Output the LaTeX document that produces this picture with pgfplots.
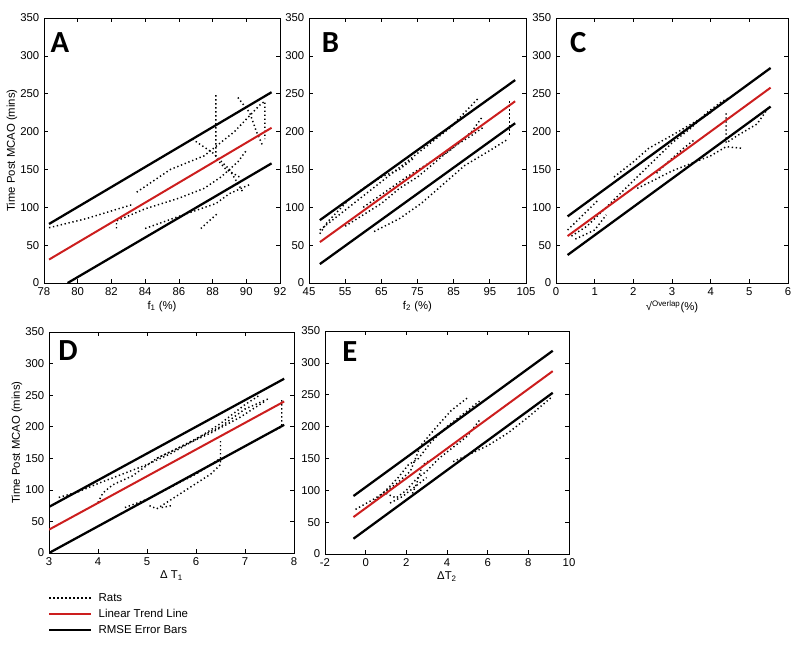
\documentclass[border=0pt]{standalone}
\usepackage{fontspec}
\setmainfont{Liberation Sans}
\newfontfamily\lettfont{Carlito}
\usepackage{pgfplots}
\pgfplotsset{compat=1.18}
\definecolor{trendred}{RGB}{204,30,30}

\pgfplotsset{
  panel/.style={scale only axis, anchor=north west,
    ymin=0, ymax=350, ytick={0,50,...,350},
    tick label style={font=\fontsize{8.5}{9}\selectfont},
    label style={font=\fontsize{8.5}{9}\selectfont},
    xlabel style={yshift=3pt}, ylabel style={yshift=-4.5pt},
    /pgf/number format/assume math mode=true,
    axis line style={line width=0.6pt},
    tick style={black, line width=0.5pt}, major tick length=3pt},
  rat/.style={black, line width=1.1pt, dash pattern=on 1pt off 2pt},
  trend/.style={trendred, line width=1.5pt},
  rmse/.style={black, line width=1.7pt},
}
\tikzset{letter/.style={anchor=north west, inner sep=0pt,
    font={\lettfont\fontsize{23}{23}\selectfont\bfseries}}}

\begin{document}
\begin{tikzpicture}
\path[use as bounding box] (0pt,0pt) rectangle (600pt,-483pt);

% ---- A ----
\begin{axis}[panel, at={(33pt,-13.5pt)}, width=177pt, height=198.75pt,
  xmin=78, xmax=92, xtick={78,80,...,92},
  xlabel={f\textsubscript{1} (\%)}, ylabel={Time Post MCAO (mins)}]
\addplot[rat] coordinates {(78.3,73) (80.5,85) (83.3,104)};
\addplot[rat] coordinates {(83.5,120) (85.5,150) (87.5,168) (89.3,200) (90.8,235) (91.1,240) (91.1,190)};
\addplot[rat] coordinates {(82.3,72) (82.3,82) (84,98) (86,112) (87.5,125) (88.5,140) (89.5,160) (90,175)};
\addplot[rat] coordinates {(84,72) (86,88) (88.2,105) (89,118) (90.2,130)};
\addplot[rat] coordinates {(87.3,72) (88.3,92)};
\addplot[rat] coordinates {(86.8,190) (88,172) (89,150) (89.8,120)};
\addplot[rat] coordinates {(88.2,248) (88.2,165) (88.8,150) (89.6,140)};
\addplot[rat] coordinates {(89.5,245) (90.2,225) (90.6,200) (91,180)};
\addplot[trend] coordinates {(78.3,31) (91.5,205)};
\addplot[rmse] coordinates {(78.3,78) (91.5,252)};
\addplot[rmse] coordinates {(79.4,0) (91.5,158)};
\node[letter] at (rel axis cs:0.027,0.947) {A};
\end{axis}

% ---- B ----
\begin{axis}[panel, at={(231.75pt,-13.5pt)}, width=162.75pt, height=198.75pt,
  xmin=45, xmax=105, xtick={45,55,...,105},
  xlabel={f\textsubscript{2} (\%)}]
\addplot[rat] coordinates {(48,70) (52,85) (56,100) (60,115) (64,130) (68,145) (72,160) (76,175) (80,190) (84,205) (88,225) (92,245)};
\addplot[rat] coordinates {(48,65) (50,80) (52,90) (56,110) (60,125) (65,140) (70,150) (74,165)};
\addplot[rat] coordinates {(55,75) (60,90) (65,105) (70,125) (75,140) (80,160) (85,180) (90,195) (93,205)};
\addplot[rat] coordinates {(63,68) (70,85) (76,105) (82,130) (88,155) (95,175) (100,190)};
\addplot[rat] coordinates {(100.5,240) (100.5,195)};
\addplot[rat] coordinates {(60,100) (66,120) (72,140) (78,158) (84,175) (90,200) (93,220)};
\addplot[trend] coordinates {(48,54) (102,240)};
\addplot[rmse] coordinates {(48,83) (102,268)};
\addplot[rmse] coordinates {(48,25) (102,211)};
\node[letter] at (rel axis cs:0.058,0.947) {B};
\end{axis}

% ---- C ----
\begin{axis}[panel, at={(417pt,-13.5pt)}, width=174pt, height=198.75pt,
  xmin=0, xmax=6, xtick={0,1,...,6},
  xlabel={√\textsuperscript{Overlap}(\%)}]
\addplot[rat] coordinates {(0.4,62) (0.8,75) (1.2,95) (1.6,115) (2,135) (2.5,160) (3,185) (3.5,205) (3.9,225) (4.3,240) (4.5,245)};
\addplot[rat] coordinates {(0.5,58) (1,70) (1.3,90)};
\addplot[rat] coordinates {(1.5,140) (2,160) (2.4,178) (3,195) (3.5,210) (4,225)};
\addplot[rat] coordinates {(2.1,125) (2.5,135) (3,148) (3.5,158) (4,168) (4.4,180) (4.8,178)};
\addplot[rat] coordinates {(4.4,224) (4.4,185) (4.7,195) (5.2,210) (5.5,232)};
\addplot[rat] coordinates {(0.3,70) (0.6,85) (0.9,100) (1.1,110)};
\addplot[rat] coordinates {(2.6,145) (2.9,160) (3.3,178) (3.6,190)};
\addplot[trend] coordinates {(0.3,62) (5.55,258)};
\addplot[rmse] coordinates {(0.3,88) (5.55,284)};
\addplot[rmse] coordinates {(0.3,37) (5.55,233)};
\node[letter] at (rel axis cs:0.06,0.947) {C};
\end{axis}

% ---- D ----
\begin{axis}[panel, at={(36.75pt,-249pt)}, width=183.75pt, height=165.75pt,
  xmin=3, xmax=8, xtick={3,4,...,8},
  xlabel={Δ T\textsubscript{1}}, ylabel={Time Post MCAO (mins)},
  legend cell align=left,
  legend image code/.code={\draw[#1] (0pt,0pt) -- (31.5pt,0pt);},
  legend style={at={(axis description cs:-0.02,-0.158)}, anchor=north west,
    draw=none, fill=none, font=\fontsize{8.6}{10}\selectfont,
    nodes={inner sep=0.5pt, text height=0.75em, text depth=0.2em},
    row sep=1.6pt, /tikz/every odd column/.append style={column sep=4pt}}]
\addplot[rat] coordinates {(3.2,88) (3.6,97) (4,110) (4.5,125) (5,140) (5.5,158) (6,180) (6.5,205) (7,235) (7.3,250)};
\addlegendentry{Rats}
\addplot[rat, forget plot] coordinates {(4,80) (4.1,95) (4.3,108) (4.7,122) (5.2,150) (5.6,165) (6.1,185) (6.5,200) (7,228) (7.5,245)};
\addplot[rat, forget plot] coordinates {(4.55,72) (5,85) (5.5,105) (6,125) (6.5,150)};
\addplot[rat, forget plot] coordinates {(5.05,75) (5.2,70) (5.5,85) (5.9,105) (6.3,125) (6.5,140) (6.5,180)};
\addplot[rat, forget plot] coordinates {(5.3,72) (5.5,75)};
\addplot[rat, forget plot] coordinates {(7.75,242) (7.75,200) (7.5,190)};
\addplot[rat, forget plot] coordinates {(5.2,150) (5.8,172) (6.3,190) (6.9,215) (7.4,240)};
\addplot[trend] coordinates {(3,37) (7.8,240)};
\addlegendentry{Linear Trend Line}
\addplot[rmse] coordinates {(3,73) (7.8,276)};
\addlegendentry{RMSE Error Bars}
\addplot[rmse, forget plot] coordinates {(3,0) (7.8,203)};
\node[letter] at (rel axis cs:0.037,0.964) {D};
\end{axis}

% ---- E ----
\begin{axis}[panel, at={(243.75pt,-248.25pt)}, width=183pt, height=167.25pt,
  xmin=-2, xmax=10, xtick={-2,0,...,10},
  xlabel={ΔT\textsubscript{2}}]
\addplot[rat] coordinates {(-0.5,70) (0.5,88) (1.5,110) (2.2,130) (2.7,170) (3.5,200) (4.2,225) (5,245)};
\addplot[rat] coordinates {(0.3,80) (1,100) (1.6,120) (2.1,140) (2.6,150) (3.2,175) (4,200) (4.8,220) (5.6,240)};
\addplot[rat] coordinates {(1.0,95) (1.5,88) (2,100) (2.5,118) (3,130) (3.6,150) (4.2,165) (5,185) (5.6,210)};
\addplot[rat] coordinates {(4.3,145) (5,155) (6,170) (7,190) (8,215) (9.1,245)};
\addplot[rat] coordinates {(1.2,80) (1.8,90) (2.4,105) (3,120)};
\addplot[rat] coordinates {(2.3,95) (2.5,110) (2.8,140) (3.2,148)};
\addplot[trend] coordinates {(-0.6,58) (9.2,287)};
\addplot[rmse] coordinates {(-0.6,91) (9.2,319)};
\addplot[rmse] coordinates {(-0.6,24) (9.2,253)};
\node[letter] at (rel axis cs:0.07,0.952) {E};
\end{axis}
\end{tikzpicture}
\end{document}
